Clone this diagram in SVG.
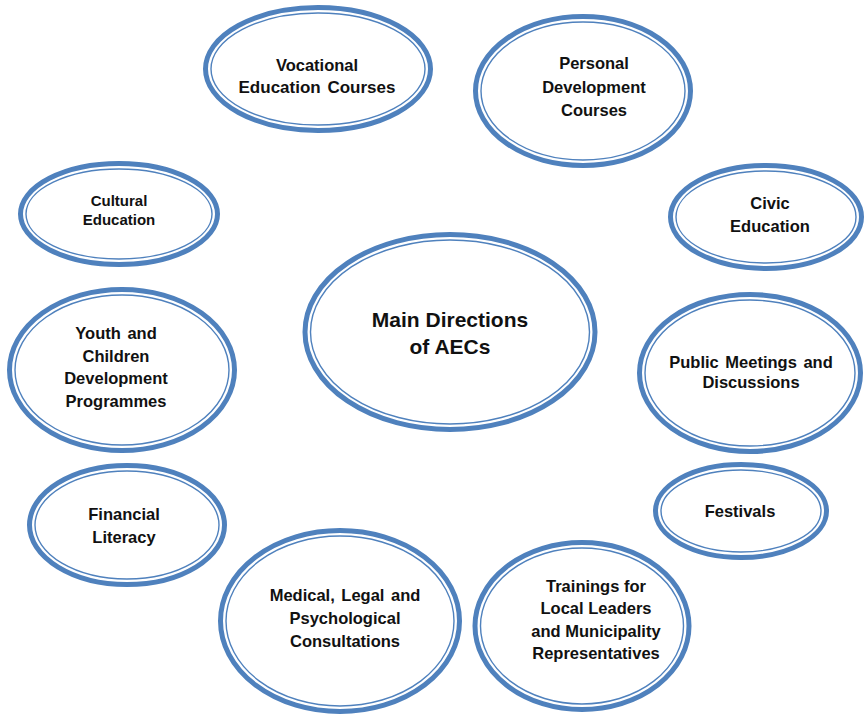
<svg xmlns="http://www.w3.org/2000/svg" width="865" height="714" viewBox="0 0 865 714">
  <style>
    .band { fill: #ffffff; stroke: #4f81bd; stroke-width: 5; }
    .rim { fill: none; stroke: #4f81bd; stroke-width: 1.4; }
    text { font-family: "Liberation Sans", Arial, sans-serif; font-weight: bold; fill: #111111; text-anchor: middle; font-size: 16.5px; }
    .big { font-size: 21px; }
    .sm { font-size: 15px; }
  </style>
  <rect width="865" height="714" fill="#ffffff"/>

  <!-- no connectors are drawn between the ovals -->
  <g id="connectors"/>

  <g id="vocational">
    <ellipse class="band" cx="318" cy="69" rx="112.5" ry="61.5"/>
    <ellipse class="rim" cx="318" cy="69" rx="107" ry="56"/>
    <text x="317" y="71" font-size="17">Vocational</text>
    <text x="317" y="93" style="font-size:17px;word-spacing:2px">Education Courses</text>
  </g>

  <g id="personal">
    <ellipse class="band" cx="583" cy="91" rx="107.5" ry="74.5"/>
    <ellipse class="rim" cx="583" cy="91" rx="102" ry="69"/>
    <text x="594" y="69">Personal</text>
    <text x="594" y="93">Development</text>
    <text x="594" y="116">Courses</text>
  </g>

  <g id="cultural">
    <ellipse class="band" cx="119" cy="214" rx="98.5" ry="50.5"/>
    <ellipse class="rim" cx="119" cy="214" rx="93" ry="45"/>
    <text class="sm" x="119" y="206">Cultural</text>
    <text class="sm" x="119" y="225">Education</text>
  </g>

  <g id="civic">
    <ellipse class="band" cx="766" cy="217" rx="95.5" ry="51.5"/>
    <ellipse class="rim" cx="766" cy="217" rx="90" ry="46"/>
    <text x="770" y="209">Civic</text>
    <text x="770" y="232">Education</text>
  </g>

  <g id="main">
    <ellipse class="band" cx="450" cy="332" rx="145" ry="97.5"/>
    <ellipse class="rim" cx="450" cy="332" rx="139.5" ry="92"/>
    <text class="big" x="450" y="327">Main Directions</text>
    <text class="big" x="450" y="354">of AECs</text>
  </g>

  <g id="youth">
    <ellipse class="band" cx="122" cy="370" rx="112.5" ry="80.5"/>
    <ellipse class="rim" cx="122" cy="370" rx="107" ry="75"/>
    <text x="116" y="339" style="word-spacing:2px">Youth and</text>
    <text x="116" y="362">Children</text>
    <text x="116" y="384">Development</text>
    <text x="116" y="407">Programmes</text>
  </g>

  <g id="public">
    <ellipse class="band" cx="750" cy="373" rx="110.5" ry="78.5"/>
    <ellipse class="rim" cx="750" cy="373" rx="105" ry="73"/>
    <text x="751" y="368" style="word-spacing:2px">Public Meetings and</text>
    <text x="751" y="388">Discussions</text>
  </g>

  <g id="financial">
    <ellipse class="band" cx="127" cy="525" rx="97.5" ry="59.5"/>
    <ellipse class="rim" cx="127" cy="525" rx="92" ry="54"/>
    <text x="124" y="520">Financial</text>
    <text x="124" y="543">Literacy</text>
  </g>

  <g id="festivals">
    <ellipse class="band" cx="741" cy="511" rx="85.5" ry="46.5"/>
    <ellipse class="rim" cx="741" cy="511" rx="80" ry="41"/>
    <text x="740" y="517">Festivals</text>
  </g>

  <g id="medical">
    <ellipse class="band" cx="340" cy="621" rx="119.5" ry="90.5"/>
    <ellipse class="rim" cx="340" cy="621" rx="114" ry="85"/>
    <text x="345" y="601" style="word-spacing:2px">Medical, Legal and</text>
    <text x="345" y="624">Psychological</text>
    <text x="345" y="647">Consultations</text>
  </g>

  <g id="trainings">
    <ellipse class="band" cx="582" cy="626" rx="107" ry="83.5"/>
    <ellipse class="rim" cx="582" cy="626" rx="101.5" ry="78"/>
    <text x="596" y="592">Trainings for</text>
    <text x="596" y="614">Local Leaders</text>
    <text x="596" y="637">and Municipality</text>
    <text x="596" y="659">Representatives</text>
  </g>
</svg>
